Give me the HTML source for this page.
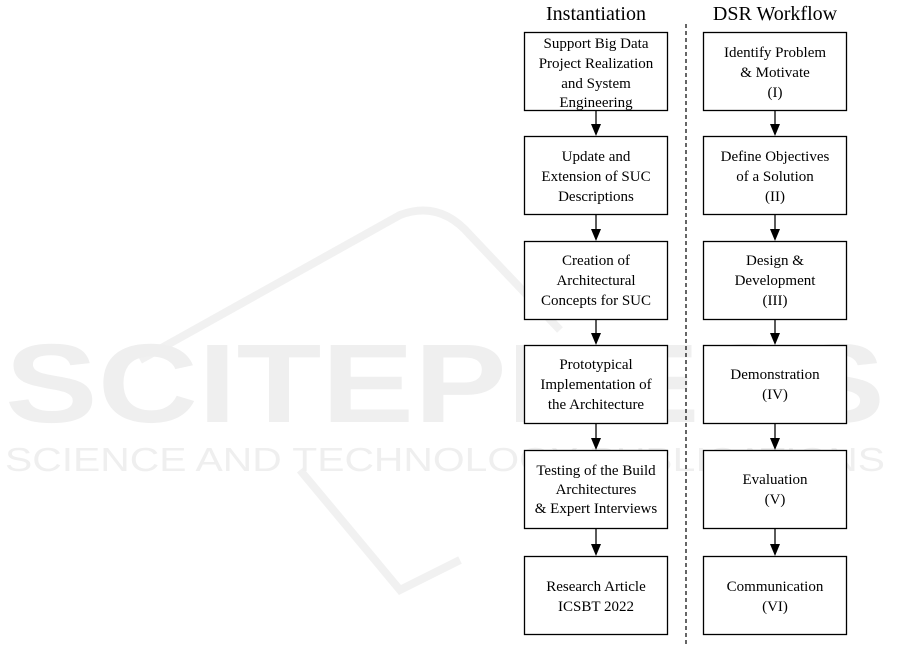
<!DOCTYPE html>
<html><head><meta charset="utf-8"><style>
body{margin:0;background:#fff;}
svg{display:block}
.t{font-family:"Liberation Serif",serif;font-size:15px;fill:#000;text-anchor:middle}
.h{font-family:"Liberation Serif",serif;font-size:20px;fill:#000;text-anchor:middle}
.w{font-family:"Liberation Sans",sans-serif;fill:#efefef;}
</style></head><body>
<svg width="901" height="647" viewBox="0 0 901 647" xmlns="http://www.w3.org/2000/svg">
<path d="M140 360 L400 215 Q440 200 470 235 L560 330" fill="none" stroke="#f1f1f1" stroke-width="8"/>
<path d="M300 470 L400 590 L460 560" fill="none" stroke="#f1f1f1" stroke-width="8"/>
<text class="w" x="5" y="422" font-size="112" font-weight="bold" textLength="880" lengthAdjust="spacingAndGlyphs">SCITEPRESS</text>
<text class="w" x="5" y="471" font-size="33" textLength="880" lengthAdjust="spacingAndGlyphs">SCIENCE AND TECHNOLOGY PUBLICATIONS</text>
<text class="h" x="596" y="20">Instantiation</text>
<text class="h" x="775" y="20">DSR Workflow</text>
<line x1="686" y1="24" x2="686" y2="645" stroke="#000" stroke-width="1.2" stroke-dasharray="4,3"/>
<g fill="#fff" stroke="#000" stroke-width="1.3">
<rect x="524.5" y="32.5" width="143" height="78"/>
<rect x="524.5" y="136.5" width="143" height="78"/>
<rect x="524.5" y="241.5" width="143" height="78"/>
<rect x="524.5" y="345.5" width="143" height="78"/>
<rect x="524.5" y="450.5" width="143" height="78"/>
<rect x="524.5" y="556.5" width="143" height="78"/>
<rect x="703.5" y="32.5" width="143" height="78"/>
<rect x="703.5" y="136.5" width="143" height="78"/>
<rect x="703.5" y="241.5" width="143" height="78"/>
<rect x="703.5" y="345.5" width="143" height="78"/>
<rect x="703.5" y="450.5" width="143" height="78"/>
<rect x="703.5" y="556.5" width="143" height="78"/>
</g>
<g stroke="#000" stroke-width="1.3">
<line x1="596" y1="111" x2="596" y2="126"/><line x1="596" y1="215" x2="596" y2="231"/><line x1="596" y1="320" x2="596" y2="335"/><line x1="596" y1="424" x2="596" y2="440"/><line x1="596" y1="529" x2="596" y2="546"/>
<line x1="775" y1="111" x2="775" y2="126"/><line x1="775" y1="215" x2="775" y2="231"/><line x1="775" y1="320" x2="775" y2="335"/><line x1="775" y1="424" x2="775" y2="440"/><line x1="775" y1="529" x2="775" y2="546"/>
</g>
<g fill="#000">
<path d="M591 124h10l-5 12z"/><path d="M591 229h10l-5 12z"/><path d="M591 333h10l-5 12z"/><path d="M591 438h10l-5 12z"/><path d="M591 544h10l-5 12z"/>
<path d="M770 124h10l-5 12z"/><path d="M770 229h10l-5 12z"/><path d="M770 333h10l-5 12z"/><path d="M770 438h10l-5 12z"/><path d="M770 544h10l-5 12z"/>
</g>
<text class="t" x="596" y="48">Support Big Data</text>
<text class="t" x="596" y="68">Project Realization</text>
<text class="t" x="596" y="88">and System</text>
<text class="t" x="596" y="107">Engineering</text>
<text class="t" x="596" y="161">Update and</text>
<text class="t" x="596" y="181">Extension of SUC</text>
<text class="t" x="596" y="201">Descriptions</text>
<text class="t" x="596" y="265">Creation of</text>
<text class="t" x="596" y="285">Architectural</text>
<text class="t" x="596" y="305">Concepts for SUC</text>
<text class="t" x="596" y="369">Prototypical</text>
<text class="t" x="596" y="389">Implementation of</text>
<text class="t" x="596" y="409">the Architecture</text>
<text class="t" x="596" y="475">Testing of the Build</text>
<text class="t" x="596" y="494">Architectures</text>
<text class="t" x="596" y="513">&amp; Expert Interviews</text>
<text class="t" x="596" y="591">Research Article</text>
<text class="t" x="596" y="611">ICSBT 2022</text>
<text class="t" x="775" y="57">Identify Problem</text>
<text class="t" x="775" y="77">&amp; Motivate</text>
<text class="t" x="775" y="97">(I)</text>
<text class="t" x="775" y="161">Define Objectives</text>
<text class="t" x="775" y="181">of a Solution</text>
<text class="t" x="775" y="201">(II)</text>
<text class="t" x="775" y="265">Design &amp;</text>
<text class="t" x="775" y="285">Development</text>
<text class="t" x="775" y="305">(III)</text>
<text class="t" x="775" y="379">Demonstration</text>
<text class="t" x="775" y="399">(IV)</text>
<text class="t" x="775" y="484">Evaluation</text>
<text class="t" x="775" y="504">(V)</text>
<text class="t" x="775" y="591">Communication</text>
<text class="t" x="775" y="611">(VI)</text>
</svg>
</body></html>
